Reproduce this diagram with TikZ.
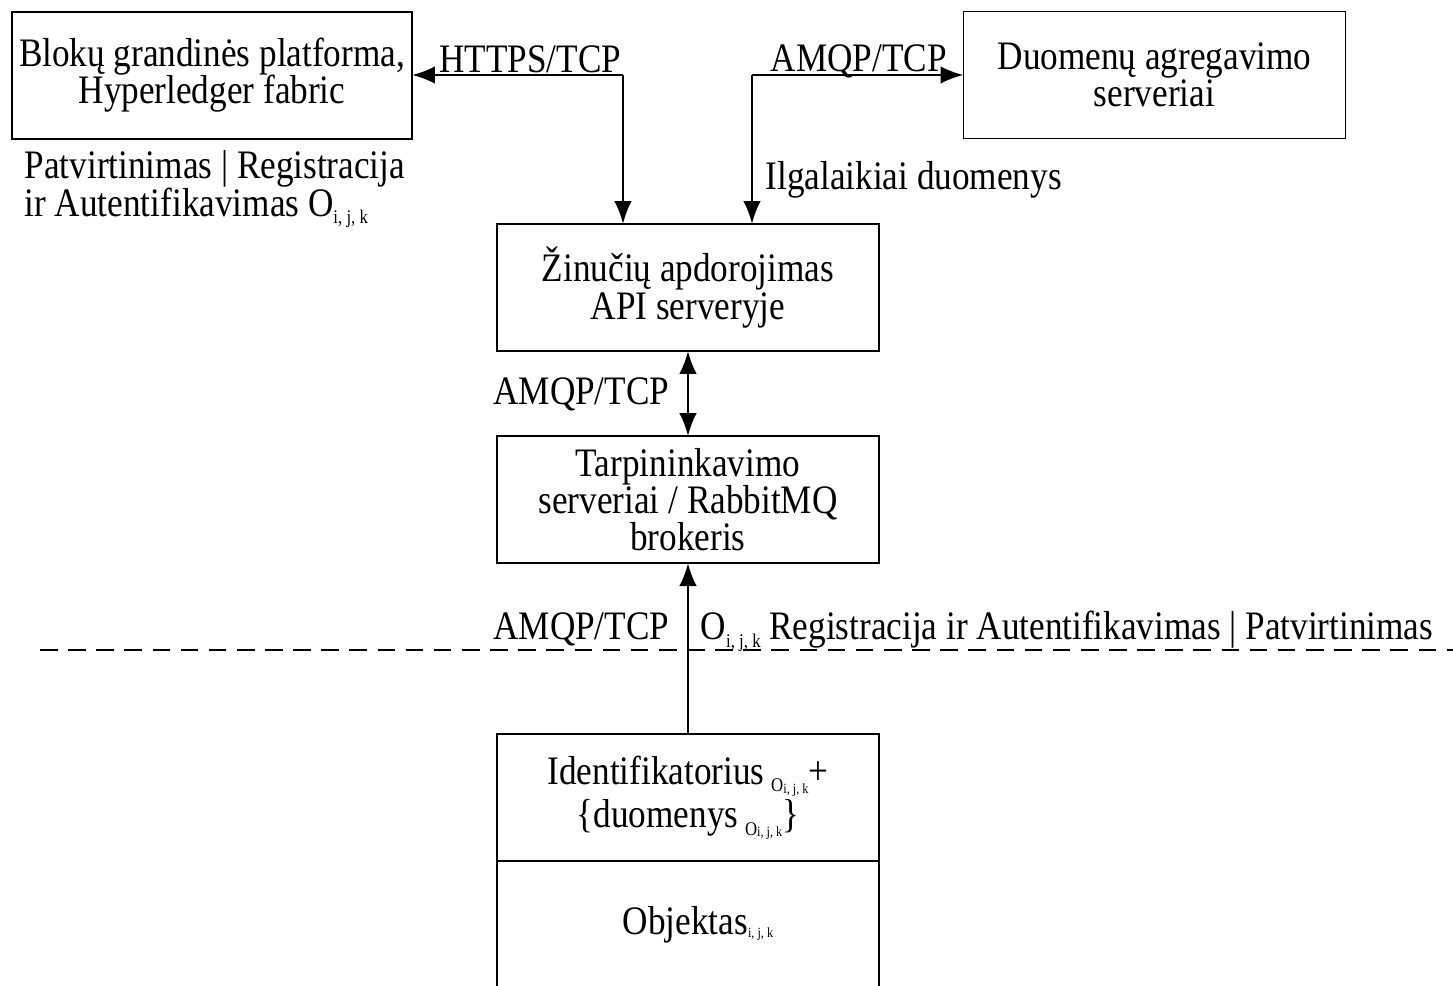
\documentclass[tikz,border=0pt]{standalone}
\usepackage{fontspec}
\setmainfont[FakeStretch=0.87]{Liberation Serif}
\usetikzlibrary{arrows.meta, positioning, calc}

\newcommand{\lowidx}[1]{\raisebox{-0.4ex}{\fontsize{5.5}{5.5}\selectfont #1}}
\newcommand{\tinyidx}[1]{\raisebox{-0.15ex}{\fontsize{4}{4}\selectfont #1}}

\begin{document}
\begin{tikzpicture}[
        x=0.01cm, y=-0.01cm,
        font=\fontsize{11.5}{10.6}\selectfont,
        block/.style={rectangle, minimum width=3.82cm, minimum height=1.27cm, text centered, align=center, draw=black, line width=0.5pt, outer sep=0pt, inner sep=1pt},
        lbl/.style={inner sep=0pt, align=left},
        arrow/.style={line width=0.7pt, -{Latex[length=6.5pt,width=5pt]}},
        twoway/.style={line width=0.7pt, {Latex[length=6.5pt,width=5pt]}-{Latex[length=6.5pt,width=5pt]}},
        border/.style={line width=0.6pt, dash pattern=on 5pt off 3pt}
    ]
    \useasboundingbox (0,0) rectangle (1453,986);

    \node (api) [block] at (688,287.5) {Žinučių apdorojimas\\API serveryje};
    \node (broker) [block, below=0.85cm of api] {Tarpininkavimo\\serveriai / RabbitMQ\\brokeris};
    \node (objhead) [block, below=1.71cm of broker] {Identifikatorius\,\lowidx{O\tinyidx{i, j, k}}+\\\{duomenys\,\lowidx{O\tinyidx{i, j, k}}\}};
    \node (objbody) [block, below=0cm of objhead] {\hspace*{0.5em}Objektas\tinyidx{i, j, k}};

    \node (chain) [block, minimum width=4cm] at (212,75.5) {Blokų grandinės platforma,\\Hyperledger fabric};
    \node (aggr) [block] at (1154.5,75) {Duomenų agregavimo\\serveriai};

    \coordinate (lbend) at (623,75);
    \coordinate (rbend) at (752,75);

    \draw [arrow] (lbend) -- (chain.east |- lbend);
    \draw [arrow] (lbend) -- (lbend |- api.north);
    \draw [arrow] (rbend) -- (aggr.west |- rbend);
    \draw [arrow] (rbend) -- (rbend |- api.north);
    \draw [twoway] (api) -- (broker);
    \draw [arrow] (objhead) -- (broker);

    \node (httpslbl) [lbl, anchor=base east] at ($(lbend)+(-1,-2)$) {HTTPS/TCP};
    \node (aggrlbl) [lbl, anchor=base west] at ($(rbend)+(18,-3)$) {AMQP/TCP};
    \node (longlbl) [lbl, anchor=base west] at (765,190) {Ilgalaikiai duomenys};
    \node (authlbl) [lbl, anchor=north west] at (24,150) {Patvirtinimas | Registracija\\ir Autentifikavimas O\lowidx{i, j, k}};
    \node (midlbl) [lbl, anchor=base east] at (670,405) {AMQP/TCP};
    \node (lowlbl) [lbl, anchor=base east] at (670,640) {AMQP/TCP};
    \node (reglbl) [lbl, anchor=base west] at (700,640) {O\lowidx{i, j, k} Registracija ir Autentifikavimas | Patvirtinimas};

    \draw [border] (40,650) -- (1453,650);

\end{tikzpicture}
\end{document}
